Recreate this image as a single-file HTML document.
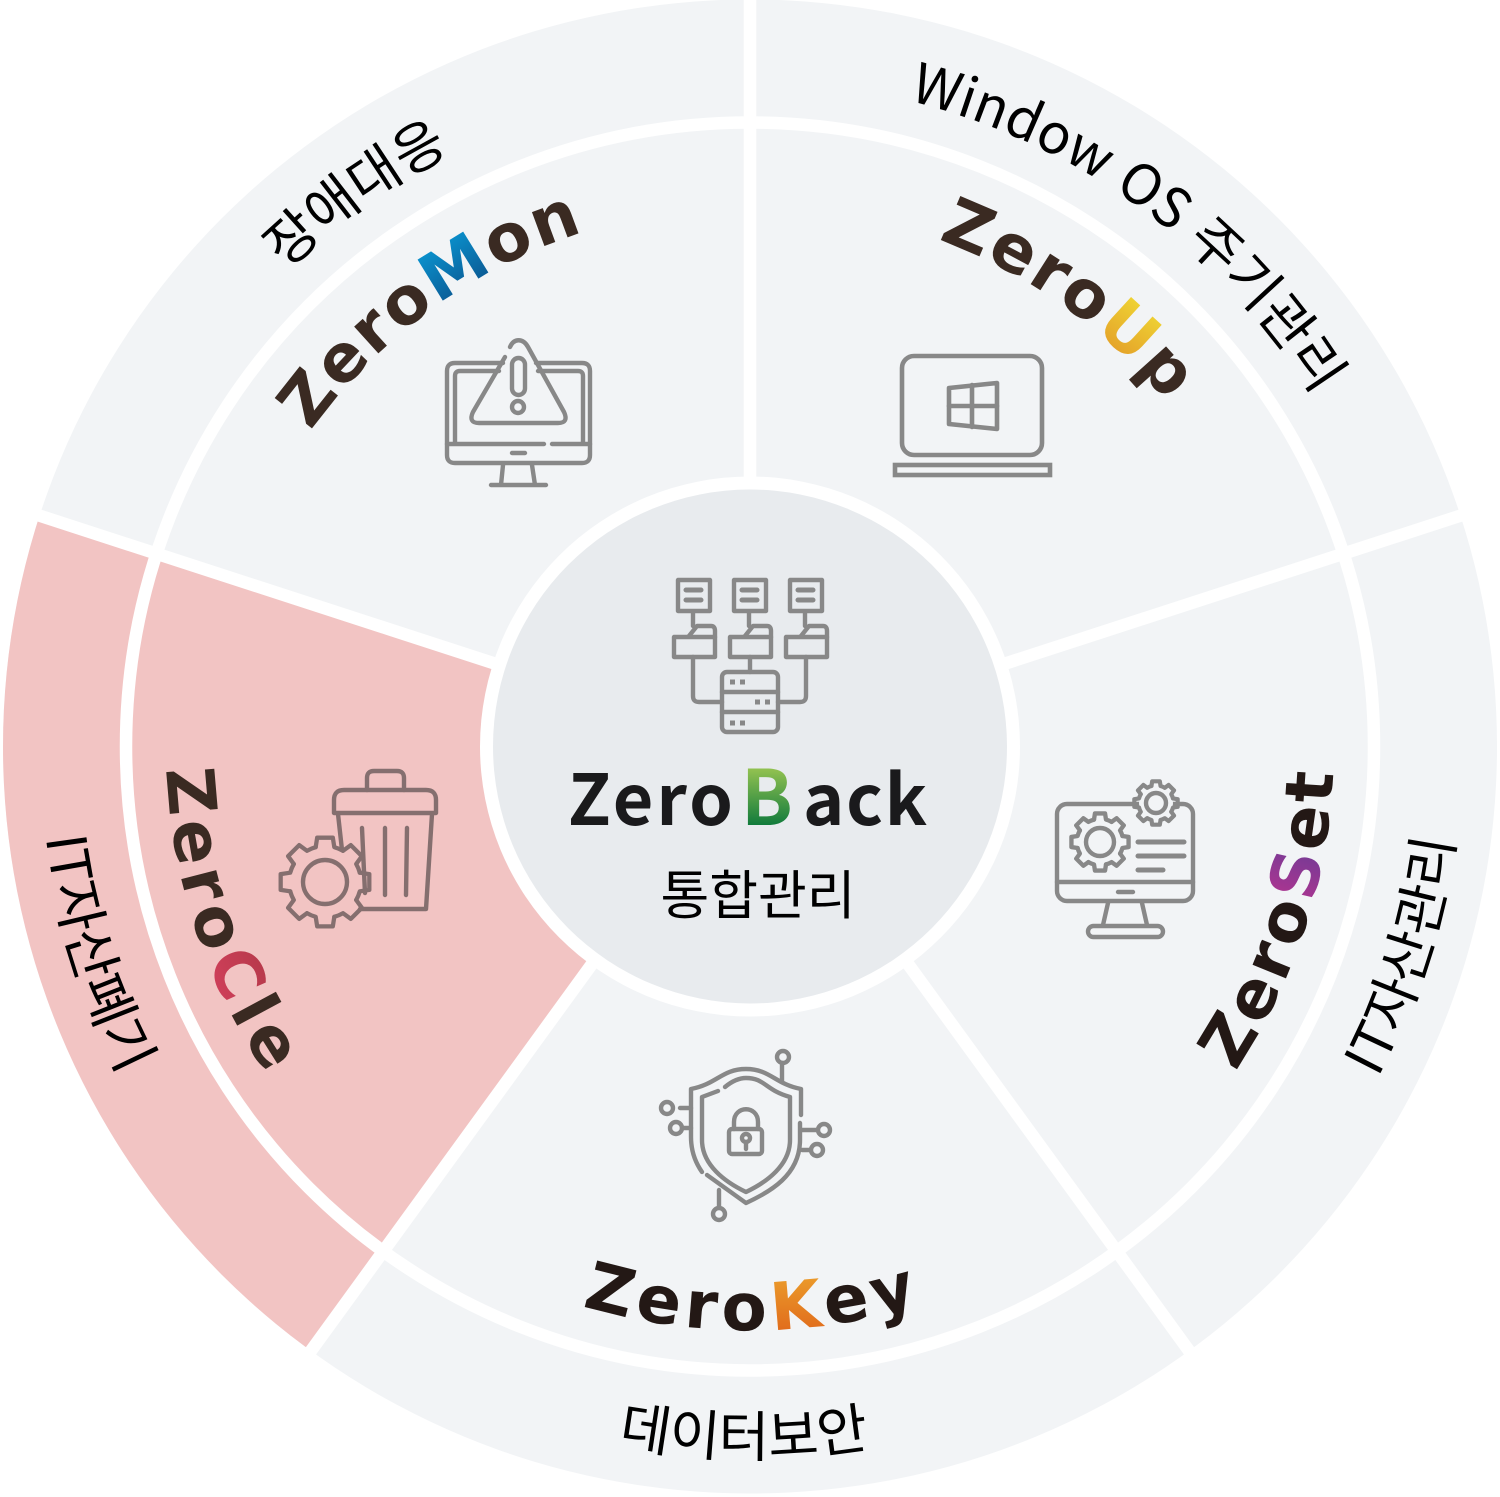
<!DOCTYPE html>
<html lang="ko"><head><meta charset="utf-8"><title>ZeroBack 통합관리</title>
<style>
html,body{margin:0;padding:0;background:#fff}
svg{display:block}
text{font-family:"Liberation Sans","Noto Sans CJK KR",sans-serif}
.lb{font-family:"Noto Sans CJK KR","Liberation Sans",sans-serif;font-size:55px;fill:#000;font-weight:400}
.lg{font-family:"DejaVu Sans","Liberation Sans",sans-serif;font-weight:700;font-size:66px}
.ic{fill:none;stroke:#888;stroke-width:4.4;stroke-linecap:round;stroke-linejoin:round}
</style></head><body>
<svg xmlns="http://www.w3.org/2000/svg" width="1500" height="1497" viewBox="0 0 1500 1497">
<defs>
<clipPath id="cc"><circle cx="750" cy="746.5" r="747"/></clipPath>
<path id="t541" d="M209 746.5A541 541 0 0 1 1291 746.5"/>
<path id="b584" d="M166 746.5A584 584 0 0 0 1334 746.5"/>
<path id="t668" d="M85 746.5A665 665 0 0 1 1415 746.5"/>
<path id="b710" d="M40 746.5A710 710 0 0 0 1460 746.5"/>
<linearGradient id="gM" gradientUnits="userSpaceOnUse" x1="0" y1="150" x2="0" y2="210"><stop offset="0" stop-color="#0a96d2"/><stop offset="1" stop-color="#0b5c96"/></linearGradient>
<linearGradient id="gU" gradientUnits="userSpaceOnUse" x1="0" y1="150" x2="0" y2="210"><stop offset="0" stop-color="#f0da35"/><stop offset="1" stop-color="#e5a52a"/></linearGradient>
<linearGradient id="gS" gradientUnits="userSpaceOnUse" x1="760" y1="0" x2="830" y2="0"><stop offset="0" stop-color="#b9348f"/><stop offset="1" stop-color="#6e3b96"/></linearGradient>
<linearGradient id="gK" gradientUnits="userSpaceOnUse" x1="0" y1="1275" x2="0" y2="1335"><stop offset="0" stop-color="#eb9c2b"/><stop offset="1" stop-color="#e0691b"/></linearGradient>
<linearGradient id="gC" gradientUnits="userSpaceOnUse" x1="0" y1="1280" x2="0" y2="1335"><stop offset="0" stop-color="#b93a4c"/><stop offset="1" stop-color="#d03f5a"/></linearGradient>
<linearGradient id="gB" gradientUnits="userSpaceOnUse" x1="0" y1="770" x2="0" y2="826"><stop offset="0" stop-color="#8fc050"/><stop offset="1" stop-color="#0f7a3c"/></linearGradient>
<path id="tooth" d="M-20.7-77.3L-17.4-98.5L17.4-98.5L20.7-77.3A80 80 0 0 1 40-69.3"/>
<g id="gear"><use href="#tooth"/><use href="#tooth" transform="rotate(45)"/><use href="#tooth" transform="rotate(90)"/><use href="#tooth" transform="rotate(135)"/><use href="#tooth" transform="rotate(180)"/><use href="#tooth" transform="rotate(225)"/><use href="#tooth" transform="rotate(270)"/><use href="#tooth" transform="rotate(315)"/></g>
<g id="fold"><path d="M674 637H715V657H674Z"/><path d="M689 636L697 626H711Q715 626 715 631V637"/><path d="M693 613V626"/><path d="M678 580H710V611H678Z"/><path d="M686 590H701M686 600H701" stroke-width="5"/></g>
</defs>

<!-- base disc -->
<circle cx="750" cy="746.5" r="747" fill="#f2f4f6"/>
<path clip-path="url(#cc)" d="M750 746.5L309.2 1353.3A750 750 0 0 1 36.7 514.7Z" fill="#f2c4c3"/>
<!-- separators -->
<g stroke="#fff" stroke-width="12.5">
<line x1="750" y1="746.5" x2="750" y2="-10"/>
<line x1="750" y1="746.5" x2="750" y2="-10" transform="rotate(72 750 746.5)"/>
<line x1="750" y1="746.5" x2="750" y2="-10" transform="rotate(144 750 746.5)"/>
<line x1="750" y1="746.5" x2="750" y2="-10" transform="rotate(216 750 746.5)"/>
<line x1="750" y1="746.5" x2="750" y2="-10" transform="rotate(288 750 746.5)"/>
</g>
<circle cx="750" cy="746.5" r="624" fill="none" stroke="#fff" stroke-width="12.5"/>
<circle cx="750" cy="746.5" r="270" fill="#fff"/>
<circle cx="750" cy="746.5" r="257" fill="#e8ebee"/>

<!-- outer labels -->
<text class="lb" transform="rotate(-35.5 750 746.5)"><textPath href="#t668" startOffset="50%" text-anchor="middle">장애대응</textPath></text>
<text class="lb" transform="rotate(36 750 746.5)"><textPath href="#t668" startOffset="50%" text-anchor="middle">Window OS 주기관리</textPath></text>
<text class="lb" transform="rotate(-72.3 750 746.5)"><textPath href="#b710" startOffset="50%" text-anchor="middle">IT자산관리</textPath></text>
<text class="lb" transform="rotate(0.5 750 746.5)"><textPath href="#b710" startOffset="50%" text-anchor="middle">데이터보안</textPath></text>
<text class="lb" transform="rotate(72.5 750 746.5)"><textPath href="#b710" startOffset="50%" text-anchor="middle">IT자산폐기</textPath></text>

<!-- logos -->
<text class="lg" fill="#3a2a22" letter-spacing="2.5" transform="rotate(-36 750 746.5)"><textPath href="#t541" startOffset="50%" text-anchor="middle">Zero<tspan fill="url(#gM)">M</tspan>on</textPath></text>
<text class="lg" fill="#3a2a22" letter-spacing="2.5" transform="rotate(35.5 750 746.5)"><textPath href="#t541" startOffset="50%" text-anchor="middle">Zero<tspan fill="url(#gU)">U</tspan>p</textPath></text>
<text class="lg" fill="#231815" letter-spacing="4" transform="rotate(-72 750 746.5)"><textPath href="#b584" startOffset="50%" text-anchor="middle">Zero<tspan fill="url(#gS)">S</tspan>et</textPath></text>
<text class="lg" fill="#231815" letter-spacing="5.5" transform="rotate(-0.3 750 746.5)"><textPath href="#b584" startOffset="50%" text-anchor="middle">Zero<tspan fill="url(#gK)">K</tspan>ey</textPath></text>
<text class="lg" fill="#3a2a22" letter-spacing="6.5" transform="rotate(71.5 750 746.5)"><textPath href="#b584" startOffset="50%" text-anchor="middle">Zero<tspan fill="url(#gC)">C</tspan>le</textPath></text>

<!-- centre text -->
<text y="825" style="font-family:'Noto Sans CJK KR','Liberation Sans',sans-serif;font-weight:700;font-size:70px" fill="#1a1a1c"><tspan x="568" textLength="165" lengthAdjust="spacing">Zero</tspan><tspan x="741" fill="url(#gB)" style="font-size:76px">B</tspan><tspan x="803" textLength="124" lengthAdjust="spacing">ack</tspan></text>
<text x="758" y="914" text-anchor="middle" style="font-family:'Noto Sans CJK KR','Liberation Sans',sans-serif;font-size:53px" fill="#000">통합관리</text>

<!-- centre icon -->
<g class="ic">
<use href="#fold"/><use href="#fold" x="56"/><use href="#fold" x="112"/>
<path d="M750 657V672"/>
<rect x="722" y="672" width="56" height="60" rx="5"/>
<path d="M722 692H778M722 712H778"/>
<path d="M693 657V696Q693 702 699 702H722M806 657V696Q806 702 800 702H778"/>
<path d="M730 682H735M740 682H745M755 702H760M765 702H770M730 723H735M740 723H745" stroke-width="5" stroke-linecap="butt"/>
</g>

<!-- ZeroMon icon -->
<g class="ic">
<path d="M503 363H455Q447 363 447 371V455Q447 463 455 463H582Q590 463 590 455V371Q590 363 582 363H536"/>
<path d="M455 443V376Q455 371 460 371H499M538 371H578Q583 371 583 376V443"/>
<path d="M447 444H544M552 444H590M512 453H525"/>
<path d="M503 465L501 485M532 465L535 485M491 485H546"/>
<path d="M505 357L473 412Q468 423 479 423H558Q569 423 564 412L528 347C523 338 514 338 510 347"/>
<rect x="512" y="358" width="13" height="37" rx="6.5"/>
<circle cx="518" cy="407" r="6"/>
</g>

<!-- ZeroUp icon -->
<g class="ic" style="stroke-width:4.6">
<rect x="902" y="356" width="140" height="99" rx="12"/>
<rect x="895" y="465" width="155" height="10" stroke-linejoin="miter"/>
<path d="M949 388L997 383V429L949 424Z"/>
<path d="M949 406H997M972 385V427"/>
</g>

<!-- ZeroSet icon -->
<g class="ic">
<rect x="1057" y="804" width="136" height="97" rx="10"/>
<path d="M1057 882H1193M1118 892H1133"/>
<path d="M1108 903L1103 925M1142 903L1147 925"/>
<rect x="1088" y="926" width="75" height="11" rx="5.5"/>
<circle cx="1100" cy="842" r="14"/>
<g transform="translate(1100 842) scale(.29)" style="stroke-width:15"><use href="#gear"/></g>
<circle cx="1156" cy="803" r="17" fill="#f2f4f6" stroke="none"/>
<circle cx="1156" cy="803" r="10"/>
<g transform="translate(1156 803) scale(.22)" style="stroke-width:19"><use href="#gear"/></g>
<path d="M1138 842H1184M1138 856H1184M1138 870H1163" style="stroke-width:5"/>
</g>

<!-- ZeroKey icon -->
<g class="ic">
<path d="M707 1175L746 1203C770 1192 800 1175 800 1140V1123M801 1115V1089C775 1084 770 1069 746 1069C722 1069 717 1084 691 1089V1137C691 1150 695 1162 702 1172"/>
<path d="M718 1091L702 1097V1140C702 1165 725 1182 746 1192C767 1182 790 1165 790 1140V1097C765 1090 765 1078 746 1078C738 1078 731 1082 725 1087"/>
<rect x="729" y="1129" width="33" height="25" rx="3"/>
<path d="M734 1129V1122C734 1105 758 1105 758 1122V1129"/>
<circle cx="746" cy="1138" r="4"/><path d="M746 1142V1149"/>
<path d="M782 1082V1063M680 1108H691M682 1128H691M801 1130H817M802 1150H810M719 1190V1207"/>
<circle cx="783" cy="1057" r="6"/><circle cx="667" cy="1108" r="6"/><circle cx="676" cy="1128" r="6"/><circle cx="824" cy="1130" r="6"/><circle cx="817" cy="1150" r="6"/><circle cx="719" cy="1214" r="6"/>
</g>

<!-- ZeroCle icon -->
<g class="ic" style="stroke:#856f6f">
<path d="M334 813H436V800Q436 790 426 790H344Q334 790 334 800Z"/>
<path d="M367 790V778Q367 771 374 771H397Q404 771 404 778V790"/>
<path d="M338 814L342 850M432 814L426 909H360"/>
<path d="M362 828L365 893M385 828V895M407 828L406 895"/>
<circle cx="325" cy="882" r="36" fill="#f2c4c3" stroke="none"/>
<circle cx="325" cy="882" r="22"/>
<g transform="translate(325 882) scale(.45)" style="stroke-width:9.5"><use href="#gear"/></g>
</g>
</svg>
</body></html>
